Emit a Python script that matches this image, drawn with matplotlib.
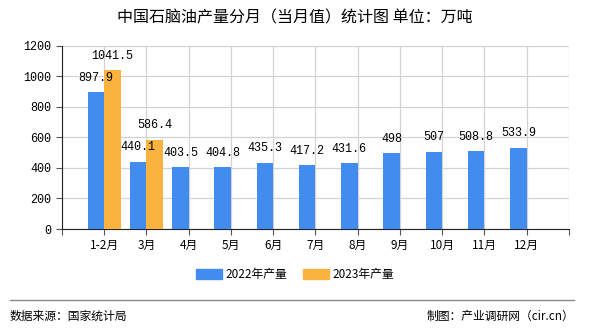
import numpy as np
import matplotlib
matplotlib.use('Agg')
import matplotlib.pyplot as plt
from matplotlib.patches import Patch

plt.rcParams['font.family'] = ['Noto Sans CJK SC', 'DejaVu Sans']
plt.rcParams['axes.unicode_minus'] = False

months = ['1-2月', '3月', '4月', '5月', '6月', '7月', '8月', '9月', '10月', '11月', '12月']
out_2022 = [897.9, 440.1, 403.5, 404.8, 435.3, 417.2, 431.6, 498, 507, 508.8, 533.9]
out_2023 = [1041.5, 586.4]
labels_2022 = ['897.9', '440.1', '403.5', '404.8', '435.3', '417.2', '431.6', '498', '507', '508.8', '533.9']
labels_2023 = ['1041.5', '586.4']

c22 = '#418cee'
c23 = '#fbb33f'
num_font = ['Liberation Mono', 'Noto Sans CJK SC']

fig = plt.figure(figsize=(5.9, 3.3), dpi=100)
ax = fig.add_axes([0.105, 0.306, 0.859, 0.555])

x = np.arange(1, len(months) + 1)
w = 0.39
ax.bar(x - w, out_2022, width=w, align='edge', color=c22, zorder=3)
x23 = x[:len(out_2023)]
ax.bar(x23, out_2023, width=w, align='edge', color=c23, zorder=3)

# value labels sit just above each bar
for xi, v, s in zip(x, out_2022, labels_2022):
    ax.text(xi - w / 2, v + 55, s, ha='center', va='bottom', fontsize=8.5, family=num_font)
for xi, v, s in zip(x23, out_2023, labels_2023):
    ax.text(xi + w / 2, v + 55, s, ha='center', va='bottom', fontsize=8.5, family=num_font)

ax.set_xlim(0, 12)
ax.set_ylim(0, 1200)
ax.set_yticks(range(0, 1201, 200))
ax.set_xticks(range(0, 13))
ax.set_xticklabels([''] + months + [''])
ax.tick_params(axis='both', labelsize=8.5, length=4, width=0.8, color='#555555')
for lab in ax.get_yticklabels():
    lab.set_family(num_font)
ax.grid(True, color='#d2d2d2', linewidth=0.9, zorder=0)
ax.spines['top'].set_visible(False)
ax.spines['right'].set_visible(False)
ax.spines['left'].set_color('#222222')
ax.spines['bottom'].set_color('#222222')

fig.text(0.5, 0.945, '中国石脑油产量分月（当月值）统计图 单位：万吨', ha='center', va='center', fontsize=11.5)

handles = [Patch(color=c22, label='2022年产量'), Patch(color=c23, label='2023年产量')]
fig.legend(handles=handles, loc='center', bbox_to_anchor=(0.5, 0.167), ncol=2, frameon=False,
           fontsize=8.5, handlelength=2.2, handleheight=0.9, columnspacing=1.4, handletextpad=0.3)

fig.add_artist(plt.Line2D([0.017, 0.973], [0.092, 0.092], color='#888888', linewidth=1))
fig.text(0.017, 0.042, '数据来源：国家统计局', ha='left', va='center', fontsize=8.5)
fig.text(0.973, 0.042, '制图：产业调研网（cir.cn）', ha='right', va='center', fontsize=8.5)

fig.savefig('out.png', dpi=100)
